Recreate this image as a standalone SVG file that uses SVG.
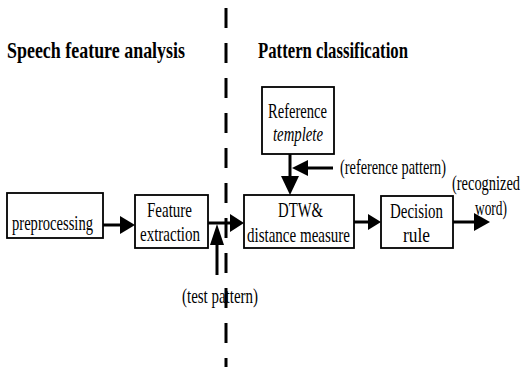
<svg xmlns="http://www.w3.org/2000/svg" width="525" height="367" viewBox="0 0 525 367">
<style>
.box{fill:#fff;stroke:#000;stroke-width:1.8}
.t{font-family:"Liberation Serif","Times New Roman",serif;font-size:21px;fill:#000}
.h{font-family:"Liberation Serif","Times New Roman",serif;font-size:23px;font-weight:bold;fill:#000}
.ln{stroke:#000;stroke-width:3;fill:none}
.ah{fill:#000;stroke:none}
</style>
<rect width="525" height="367" fill="#fff"/>
<line x1="226" y1="8" x2="226" y2="367" stroke="#000" stroke-width="3" stroke-dasharray="20 15"/>
<text class="h" x="7" y="58" textLength="178" lengthAdjust="spacingAndGlyphs">Speech feature analysis</text>
<text class="h" x="258" y="58" textLength="150" lengthAdjust="spacingAndGlyphs">Pattern classification</text>
<g id="connectors">
<line class="ln" x1="103" y1="225" x2="121" y2="225"/>
<polygon class="ah" points="120,216 135,225 120,234"/>
<line class="ln" x1="208" y1="223" x2="231" y2="223"/>
<polygon class="ah" points="230,214 244,223 230,232"/>
<line class="ln" x1="217" y1="275" x2="217" y2="244"/>
<polygon class="ah" points="210,245 217,224 224,245"/>
<line class="ln" x1="290" y1="154" x2="290" y2="177"/>
<polygon class="ah" points="281,176 290,195 299,176"/>
<line class="ln" x1="333" y1="168" x2="307" y2="168"/>
<polygon class="ah" points="308,160 292,168 308,176"/>
<line class="ln" x1="354" y1="222" x2="369" y2="222"/>
<polygon class="ah" points="368,214 381,222 368,230"/>
<line class="ln" x1="453" y1="222" x2="475" y2="222"/>
<polygon class="ah" points="474,213 490,222 474,231"/>
</g>
<g id="preprocessing">
<rect class="box" x="7" y="193" width="96" height="45"/>
<text class="t" x="12" y="230" textLength="81" lengthAdjust="spacingAndGlyphs">preprocessing</text>
</g>
<g id="feature">
<rect class="box" x="135" y="195" width="73" height="53"/>
<text class="t" x="147" y="217" textLength="45" lengthAdjust="spacingAndGlyphs">Feature</text>
<text class="t" x="140" y="241" textLength="60" lengthAdjust="spacingAndGlyphs">extraction</text>
</g>
<g id="reference">
<rect class="box" x="262" y="87" width="72" height="67"/>
<text class="t" x="268" y="118" textLength="59" lengthAdjust="spacingAndGlyphs">Reference</text>
<text class="t" x="273" y="141" textLength="50" lengthAdjust="spacingAndGlyphs" font-style="italic">templete</text>
</g>
<g id="dtw">
<rect class="box" x="244" y="195" width="110" height="53"/>
<text class="t" x="278" y="217" textLength="45" lengthAdjust="spacingAndGlyphs">DTW&amp;</text>
<text class="t" x="247" y="242" textLength="103" lengthAdjust="spacingAndGlyphs">distance measure</text>
</g>
<g id="decision">
<rect class="box" x="381" y="196" width="72" height="52"/>
<text class="t" x="390" y="218" textLength="53" lengthAdjust="spacingAndGlyphs">Decision</text>
<text class="t" x="403" y="242" textLength="27" lengthAdjust="spacingAndGlyphs">rule</text>
</g>
<g id="labels">
<text class="t" x="340" y="174" textLength="106" lengthAdjust="spacingAndGlyphs">(reference pattern)</text>
<text class="t" x="452" y="190" textLength="68" lengthAdjust="spacingAndGlyphs">(recognized</text>
<text class="t" x="475" y="215" textLength="32" lengthAdjust="spacingAndGlyphs">word)</text>
<text class="t" x="182" y="303" textLength="76" lengthAdjust="spacingAndGlyphs">(test pattern)</text>
</g>
</svg>
